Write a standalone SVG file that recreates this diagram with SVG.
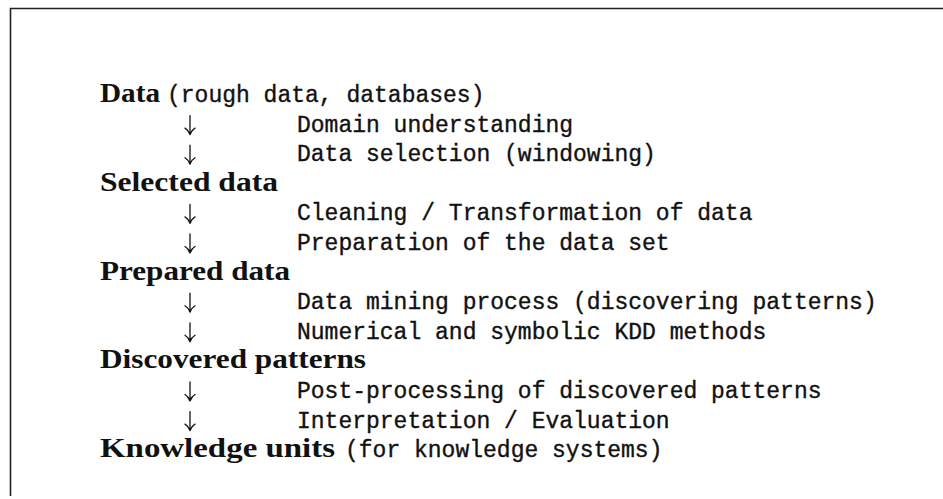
<svg xmlns="http://www.w3.org/2000/svg" width="943" height="499" viewBox="0 0 943 499">
<style>
.b{font-family:"Liberation Serif",serif;font-weight:bold;font-size:27px;fill:#111}
.m{font-family:"Liberation Mono",monospace;font-size:23px;fill:#111;stroke:#111;stroke-width:0.35}
.ar{fill:none;stroke:#111;stroke-width:1.3;stroke-linecap:round}
</style>
<rect width="943" height="499" fill="#fff"/>
<g id="frame" fill="none" stroke="#222">
<path d="M10.5 496 V8.5 H943" stroke-width="1.6"/>
</g>
<defs>
<path id="arr" class="ar" d="M0 -16 V3 M0 3 Q-1.5 -1.5 -5 -3.5 M0 3 Q1.5 -1.5 5 -3.5"/>
</defs>
<g id="connectors">
<use href="#arr" x="190" y="131.6"/>
<use href="#arr" x="190" y="161.2"/>
<use href="#arr" x="190" y="220.4"/>
<use href="#arr" x="190" y="250"/>
<use href="#arr" x="190" y="309.2"/>
<use href="#arr" x="190" y="338.8"/>
<use href="#arr" x="190" y="398"/>
<use href="#arr" x="190" y="427.6"/>
</g>
<g id="n-data"><text class="b" x="100" y="102" textLength="60" lengthAdjust="spacingAndGlyphs">Data</text><text class="m" x="167" y="102">(rough data, databases)</text></g>
<g id="s-domain"><text class="m" x="297" y="131.6">Domain understanding</text></g>
<g id="s-selection"><text class="m" x="297" y="161.2">Data selection (windowing)</text></g>
<g id="n-selected"><text class="b" x="100" y="190.8" textLength="178" lengthAdjust="spacingAndGlyphs">Selected data</text></g>
<g id="s-cleaning"><text class="m" x="297" y="220.4">Cleaning / Transformation of data</text></g>
<g id="s-preparation"><text class="m" x="297" y="250">Preparation of the data set</text></g>
<g id="n-prepared"><text class="b" x="100" y="279.6" textLength="190" lengthAdjust="spacingAndGlyphs">Prepared data</text></g>
<g id="s-mining"><text class="m" x="297" y="309.2">Data mining process (discovering patterns)</text></g>
<g id="s-methods"><text class="m" x="297" y="338.8">Numerical and symbolic KDD methods</text></g>
<g id="n-patterns"><text class="b" x="100" y="368.4" textLength="266" lengthAdjust="spacingAndGlyphs">Discovered patterns</text></g>
<g id="s-post"><text class="m" x="297" y="398">Post-processing of discovered patterns</text></g>
<g id="s-interp"><text class="m" x="297" y="427.6">Interpretation / Evaluation</text></g>
<g id="n-knowledge"><text class="b" x="100" y="457.2" textLength="235" lengthAdjust="spacingAndGlyphs">Knowledge units</text><text class="m" x="345" y="457.2">(for knowledge systems)</text></g>
</svg>
